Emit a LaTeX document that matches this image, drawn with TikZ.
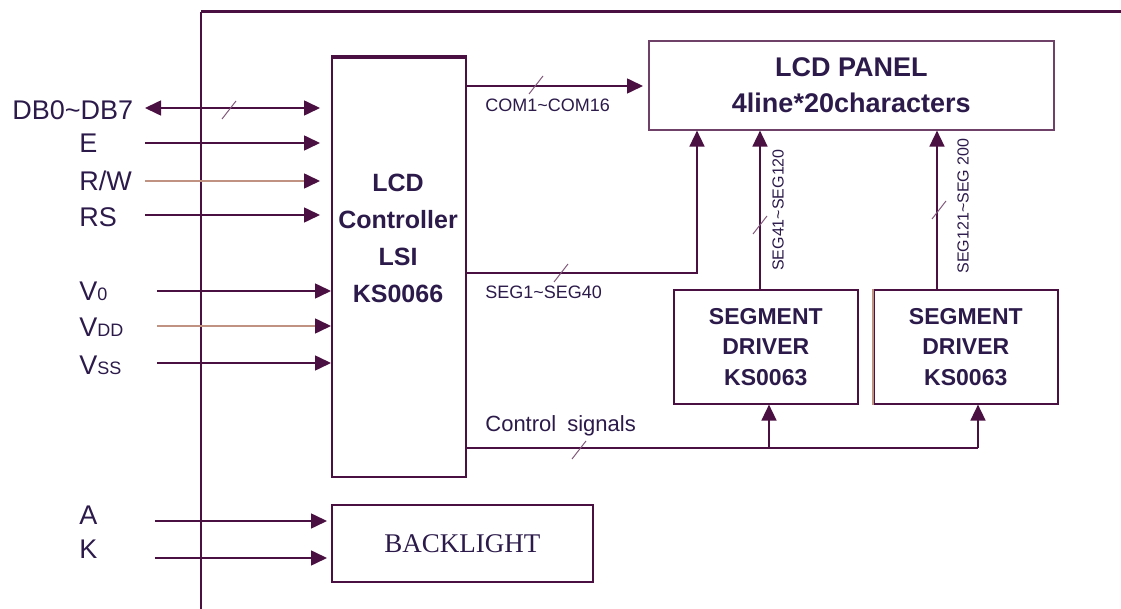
\documentclass[tikz,border=0pt]{standalone}
\usepackage{fontspec}
\setmainfont{Liberation Sans}
\newfontfamily\seriffont{Liberation Serif}
\usepackage{xcolor}
\usepackage{tikz}
\usetikzlibrary{positioning}
\usetikzlibrary{arrows.meta}
\definecolor{wirec}{HTML}{4B1042}
\definecolor{brownc}{HTML}{C09282}
\definecolor{inkc}{HTML}{2B1A4A}

\begin{document}
\begin{tikzpicture}[x=0.5pt,y=-0.5pt,>={Triangle[length=8pt,width=7.5pt,color=wirec]},
	wire/.style={draw=wirec,line width=0.8pt},
	bus/.style={wire,->},
	box/.style={draw=wirec,line width=0.8pt,inner sep=0pt,anchor=north west,text=inkc},
	pin/.style={anchor=west,text=inkc,inner sep=0pt,font=\fontsize{13.5}{14}\selectfont},
	tag/.style={anchor=west,text=inkc,inner sep=0pt,font=\fontsize{9}{10}\selectfont},
	busmark/.style={draw=wirec!70,line width=0.5pt}]
	\useasboundingbox (0,0) rectangle (1121,609);
	
	% frame
	\draw[wirec,line width=0.8pt] (201,609) -- (201,12);
	\draw[wirec,line width=1.5pt] (201,12) -- (1121,12);
	
	% blocks
	\node[box,minimum width=67pt,minimum height=209.5pt] (ctrl) at (331,57) {};
	\draw[wirec,line width=1.5pt] (ctrl.north west) -- (ctrl.north east);
	\node[text=inkc,align=center,font={\bfseries\fontsize{12.5}{18.5}\selectfont}] 
	(ctrltxt) at (398,238) {LCD\\Controller\\LSI\\KS0066};
	
	\node[box,draw=wirec!80,minimum width=202.5pt,minimum height=44.5pt,align=center,
	font={\bfseries\fontsize{13.5}{18}\selectfont}] 
	(panel) at (648,40) {LCD PANEL\\4line*20characters};
	
	\node[box,minimum width=92pt,minimum height=57pt,align=center,
	font={\bfseries\fontsize{11.5}{15.25}\selectfont}] 
	(drvA) at (673,289) {SEGMENT\\DRIVER\\KS0063};
	\node[box,minimum width=92pt,minimum height=57pt,align=center,
	font={\bfseries\fontsize{11.5}{15.25}\selectfont}] 
	(drvB) at (873,289) {SEGMENT\\DRIVER\\KS0063};
	\draw[brownc,line width=0.8pt] (drvB.north west) -- (drvB.south west);
	
	\node[box,minimum width=130.5pt,minimum height=38.5pt,
	font={\seriffont\fontsize{13.5}{14}\selectfont}] 
	(bl) at (331,504) {BACKLIGHT};
	
	% inputs of the controller
	\node[pin,anchor=west] (db) at (12,110) {DB0\textasciitilde DB7};
	\coordinate (in-db) at (145,108);
	\draw[bus,<->,shorten >=5.5pt] (in-db) -- (ctrl.west |- in-db);
	
	\foreach \n/\t/\ly/\ay/\c/\s/\g in {e/E/143/143/wirec/145/5.5pt,
		rw/R\slash W/181/181/brownc/145/5.5pt,
		rs/RS/217/215/wirec/145/5.5pt,
		vo/V{\fontsize{9}{9}\selectfont 0}/291/291/wirec/157/0pt,
		vdd/V{\fontsize{9}{9}\selectfont DD}/327/326/brownc/157/0pt,
		vss/V{\fontsize{9}{9}\selectfont SS}/365/363/wirec/157/0pt}{
		\node[pin] (\n) at (79,\ly) {\t};
		\coordinate (in-\n) at (\s,\ay);
		\draw[bus,draw=\c,shorten >=\g] (in-\n) -- (ctrl.west |- in-\n);
	}
	
	% backlight
	\foreach \n/\t/\ly/\ay in {a/A/515/521,k/K/549/558}{
		\node[pin] (\n) at (79,\ly) {\t};
		\coordinate (in-\n) at (155,\ay);
		\draw[bus,shorten >=2pt] (in-\n) -- (bl.west |- in-\n);
	}
	
	% common and segment lines
	\draw[bus,shorten >=2.5pt] (ctrl.east |- 0,86) -- (panel.west |- 0,86);
	\node[tag] (com) at (485,105) {COM1\textasciitilde COM16};
	
	\coordinate (seg-turn) at (697,273);
	\draw[bus] (ctrl.east |- seg-turn) -- (seg-turn) -- (seg-turn |- panel.south);
	\node[tag] (seg) at (485,292) {SEG1\textasciitilde SEG40};
	
	\draw[bus] (drvA.north -| 760,0) -- (panel.south -| 760,0);
	\node[tag,anchor=center,rotate=90,font=\fontsize{8}{9}\selectfont] 
	(segA) at (778,210) {SEG41\textasciitilde SEG120};
	\draw[bus] (drvB.north -| 937,0) -- (panel.south -| 937,0);
	\node[tag,anchor=center,rotate=90,font=\fontsize{8}{9}\selectfont] 
	(segB) at (963,206) {SEG121\textasciitilde SEG 200};
	
	% control signals
	\coordinate (ctl-tap) at (769,448);
	\coordinate (ctl-end) at (978,448);
	\draw[wire] (ctrl.east |- ctl-end) -- (ctl-end);
	\draw[bus] (ctl-tap) -- (drvA.south -| ctl-tap);
	\draw[bus] (ctl-end) -- (drvB.south -| ctl-end);
	\node[tag,font=\fontsize{11}{12}\selectfont] (ctl) at (485,426) {Control\hspace{0.5em}signals};
	
	% bus marks
	\foreach \x/\y in {229/110,536/85,561/273,579/450,760/225,939/210}{
		\draw[busmark] (\x-7,\y+9) -- (\x+7,\y-9);}
\end{tikzpicture}
\end{document}
